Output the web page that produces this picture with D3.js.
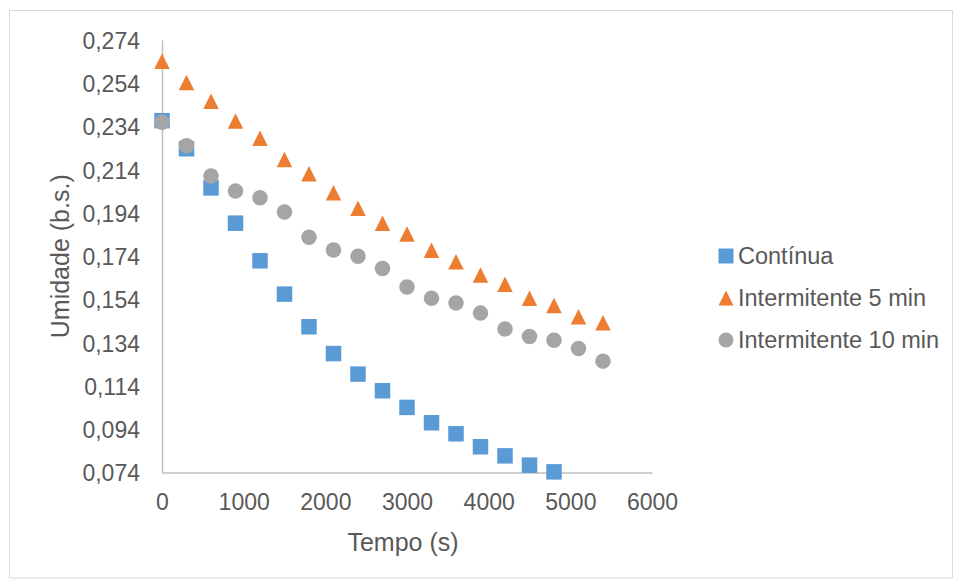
<!DOCTYPE html>
<html>
<head>
<meta charset="utf-8">
<script src="https://cdn.jsdelivr.net/npm/d3@7"></script>
<style>
  html, body { margin: 0; padding: 0; background: #fff; }
  svg { display: block; font-family: "Liberation Sans", Arial, sans-serif; }
</style>
</head>
<body>
<svg id="chart"></svg>
<script>
// time (s) of each reading
const tempo = [0, 300, 600, 900, 1200, 1500, 1800, 2100, 2400, 2700, 3000, 3300, 3600, 3900, 4200, 4500, 4800, 5100, 5400];

const continua = [0.2367, 0.2237, 0.2056, 0.1893, 0.1719, 0.1565, 0.1414, 0.1290, 0.1195, 0.1118,
  0.1041, 0.0970, 0.0919, 0.0859, 0.0817, 0.0774, 0.0743];
const interm5 = [0.2642, 0.2544, 0.2457, 0.2365, 0.2286, 0.2187, 0.2121, 0.2034, 0.1962, 0.1893,
  0.1843, 0.1768, 0.1715, 0.1653, 0.1611, 0.1546, 0.1512, 0.1460, 0.1433];
const interm10 = [0.2360, 0.2251, 0.2111, 0.2042, 0.2011, 0.1945, 0.1828, 0.1769, 0.1740, 0.1683,
  0.1598, 0.1546, 0.1524, 0.1477, 0.1404, 0.1369, 0.1352, 0.1313, 0.1255];

const seriesNames = ["Contínua", "Intermitente 5 min", "Intermitente 10 min"];
const xTicks = [0, 1000, 2000, 3000, 4000, 5000, 6000];
const yTicks = [0.074, 0.094, 0.114, 0.134, 0.154, 0.174, 0.194, 0.214, 0.234, 0.254, 0.274];

const W = 955, H = 579;
const colors = ["#5B9BD5", "#ED7D31", "#A5A5A5"];
const shapes = ["square", "triangle", "circle"];
const textColor = "#595959";
const axisColor = "#BFBFBF";

const svg = d3.select("#chart").attr("width", W).attr("height", H);

// chart border
svg.append("rect")
  .attr("x", 9.5).attr("y", 10.5)
  .attr("width", 943).attr("height", 567.5)
  .attr("fill", "none").attr("stroke", "#D9D9D9");

const x = d3.scaleLinear().domain([0, 6000]).range([162, 652]);
const y = d3.scaleLinear().domain([0.074, 0.274]).range([472.5, 40]);

const fmt = v => d3.format(".3f")(v).replace(".", ",");

// y axis
const yAxis = svg.append("g")
  .attr("transform", "translate(" + x(0) + ",0)")
  .call(d3.axisLeft(y).tickValues(yTicks).tickFormat(fmt).tickSize(0).tickPadding(22));
yAxis.select(".domain").attr("stroke", axisColor).attr("stroke-width", 1.5);
yAxis.selectAll("text")
  .attr("fill", textColor)
  .style("font-size", "23px")
  .attr("dy", "0.36em");

// x axis
const xAxis = svg.append("g")
  .attr("transform", "translate(0," + y(0.074) + ")")
  .call(d3.axisBottom(x).tickValues(xTicks).tickFormat(d3.format("d")).tickSize(0).tickPadding(21));
xAxis.select(".domain").attr("stroke", axisColor).attr("stroke-width", 1.5);
xAxis.selectAll("text")
  .attr("fill", textColor)
  .style("font-size", "23px")
  .attr("dy", "0.71em");

// axis titles
svg.append("text")
  .attr("x", (x(0) + x(6000)) / 2 - 4).attr("y", 551)
  .attr("text-anchor", "middle")
  .attr("fill", textColor)
  .style("font-size", "25px")
  .text("Tempo (s)");

svg.append("text")
  .attr("transform", "translate(69," + (y(0.074) + y(0.274)) / 2 + ") rotate(-90)")
  .attr("text-anchor", "middle")
  .attr("fill", textColor)
  .style("font-size", "25px")
  .text("Umidade (b.s.)");

// marker path centred on 0,0
function markerPath(shape, s) {
  const h = s / 2;
  if (shape === "square") return "M" + (-h) + "," + (-h) + "h" + s + "v" + s + "h" + (-s) + "Z";
  if (shape === "triangle") return "M0," + (-h) + "L" + h + "," + h + "L" + (-h) + "," + h + "Z";
  return d3.arc()({ innerRadius: 0, outerRadius: h, startAngle: 0, endAngle: 2 * Math.PI });
}

const allSeries = [continua, interm5, interm10];
allSeries.forEach(function (vals, i) {
  const pts = vals.map((v, j) => ({ t: tempo[j], v: v }));
  svg.append("g").selectAll("path")
    .data(pts)
    .enter().append("path")
    .attr("d", markerPath(shapes[i], 15.5))
    .attr("transform", d => "translate(" + x(d.t) + "," + y(d.v) + ")")
    .attr("fill", colors[i]);
});

// legend
const legend = svg.append("g");
const rowY = [256, 298, 340];
seriesNames.forEach(function (name, i) {
  const row = legend.append("g").attr("transform", "translate(726," + rowY[i] + ")");
  row.append("path")
    .attr("d", markerPath(shapes[i], 15))
    .attr("fill", colors[i]);
  row.append("text")
    .attr("x", 12).attr("dy", "0.35em")
    .attr("fill", textColor)
    .style("font-size", "23.5px")
    .text(name);
});
</script>
</body>
</html>
